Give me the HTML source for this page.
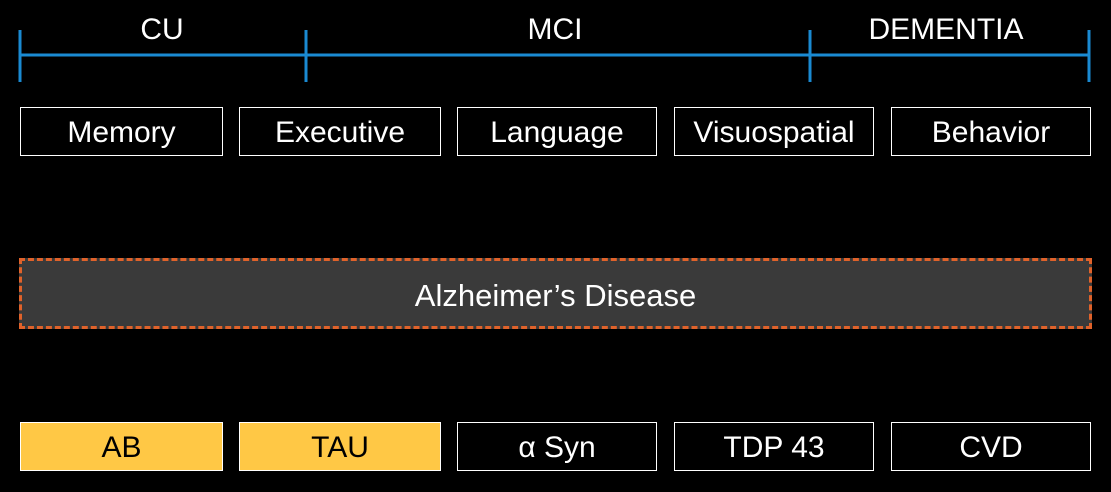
<!DOCTYPE html>
<html><head><style>
body{margin:0;width:1111px;height:492px;background:#000;position:relative;overflow:hidden;font-family:"Liberation Sans",sans-serif;color:#fff}
.b{position:absolute;box-sizing:border-box;border:1.5px solid #fff;display:flex;align-items:center;justify-content:center;font-size:30px;height:49px;padding-top:2px}
.y{background:#ffc845;color:#000}
.t{position:absolute;font-size:30px;top:13px;transform:translateX(-50%)}
</style></head><body>
<svg width="1111" height="100" style="position:absolute;left:0;top:0">
<g stroke="#1a8ad2" stroke-width="3">
<line x1="20" y1="55" x2="1090" y2="55"/>
<line x1="20" y1="30" x2="20" y2="82"/>
<line x1="306" y1="30" x2="306" y2="82"/>
<line x1="810" y1="30" x2="810" y2="82"/>
<line x1="1089" y1="30" x2="1089" y2="82"/>
</g></svg>
<div class="t" style="left:162px">CU</div>
<div class="t" style="left:555px">MCI</div>
<div class="t" style="left:946px">DEMENTIA</div>
<div class="b" style="left:20px;top:107px;width:203px">Memory</div>
<div class="b" style="left:239px;top:107px;width:202px">Executive</div>
<div class="b" style="left:457px;top:107px;width:200px">Language</div>
<div class="b" style="left:674px;top:107px;width:200px">Visuospatial</div>
<div class="b" style="left:891px;top:107px;width:200px">Behavior</div>
<div style="position:absolute;left:19px;top:258px;width:1073px;height:71px;box-sizing:border-box;border:3px dashed #e0622a;background:#3a3a3a;display:flex;align-items:center;justify-content:center;font-size:31px;padding-top:4px">Alzheimer’s Disease</div>
<div class="b y" style="left:20px;top:422px;width:203px">AB</div>
<div class="b y" style="left:239px;top:422px;width:202px">TAU</div>
<div class="b" style="left:457px;top:422px;width:200px">α Syn</div>
<div class="b" style="left:674px;top:422px;width:200px">TDP 43</div>
<div class="b" style="left:891px;top:422px;width:200px">CVD</div>
</body></html>
